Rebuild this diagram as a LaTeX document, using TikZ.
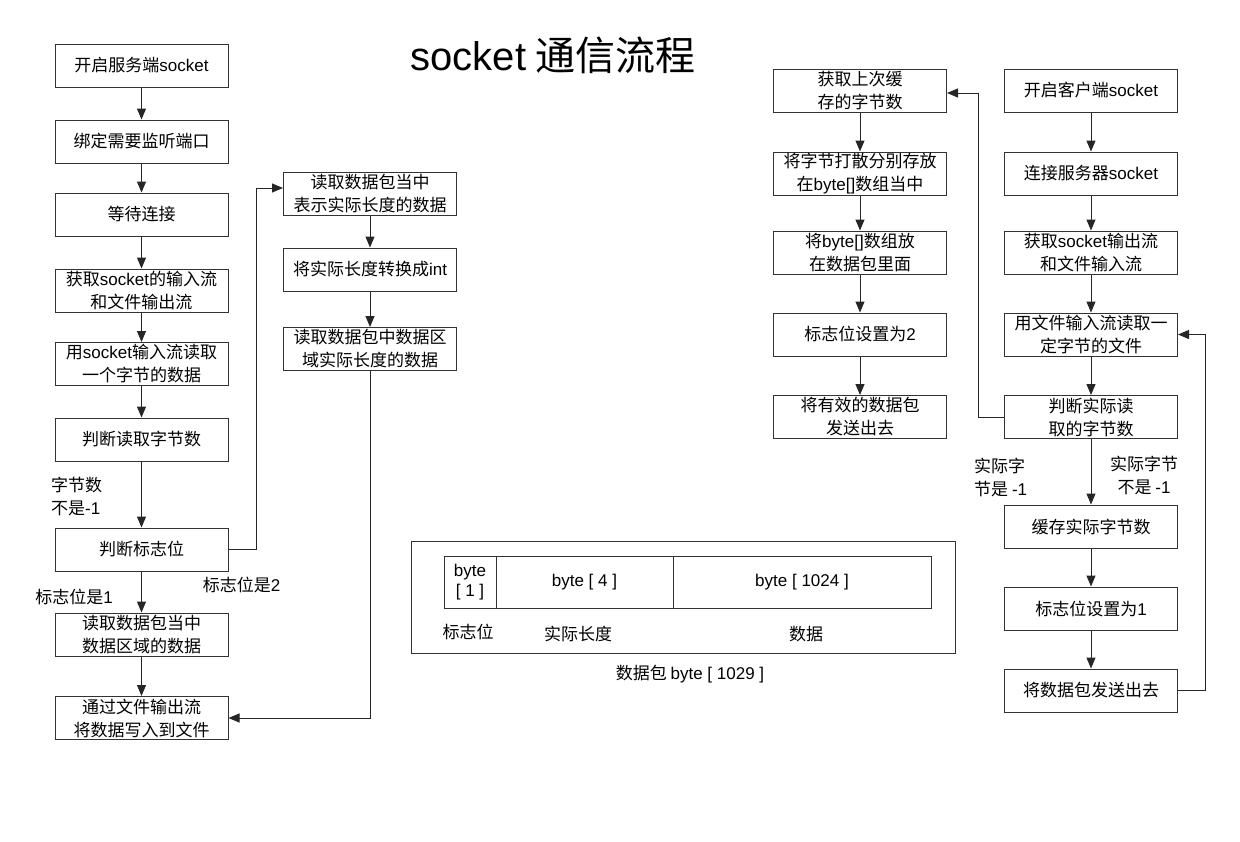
\documentclass[tikz,border=0pt]{standalone}
\usepackage{fontspec}
\setmainfont{Noto Sans CJK SC}
\newfontfamily\latf{Liberation Sans}
\newcommand\lat[1]{{\latf #1}}
\usetikzlibrary{arrows.meta}
\begin{document}
\begin{tikzpicture}[x=1pt,y=-1pt,
  box/.style={draw=black!80, line width=1pt, minimum width=173pt, minimum height=43pt,
    inner sep=0pt, align=center, font=\fontsize{17}{23}\selectfont},
  cell/.style={draw=black!80, line width=1pt, minimum height=52pt,
    inner sep=0pt, align=center, font=\fontsize{17}{20}\selectfont},
  arr/.style={draw=black!85, line width=1pt, -{Triangle[length=11pt,width=9pt]}},
  lbl/.style={font=\fontsize{17}{23}\selectfont, inner sep=0pt}]
\fill[white] (0,0) rectangle (1240,841);
\useasboundingbox (0,0) rectangle (1240,841);

% title
\node[font=\fontsize{40}{46}\selectfont, inner sep=0pt] (title) at (553,55) {\lat{socket} 通信流程};

% server column
\node[box] (s1) at (141.5,65.5) {开启服务端\lat{socket}};
\node[box] (s2) at (141.5,141.5) {绑定需要监听端口};
\node[box] (s3) at (141.5,214.5) {等待连接};
\node[box] (s4) at (141.5,290.5) {获取\lat{socket}的输入流\\和文件输出流};
\node[box] (s5) at (141.5,364) {用\lat{socket}输入流读取\\一个字节的数据};
\node[box] (s6) at (141.5,439.5) {判断读取字节数};
\node[box] (s7) at (141.5,549.5) {判断标志位};
\node[box] (s8) at (141.5,634.5) {读取数据包当中\\数据区域的数据};
\node[box] (s9) at (141.5,718) {通过文件输出流\\将数据写入到文件};

\node[box] (m1) at (370,193.5) {读取数据包当中\\表示实际长度的数据};
\node[box] (m2) at (370,269.5) {将实际长度转换成\lat{int}};
\node[box] (m3) at (370,349) {读取数据包中数据区\\域实际长度的数据};

\foreach \a/\b in {s1/s2,s2/s3,s3/s4,s4/s5,s5/s6,s6/s7,s7/s8,s8/s9,m1/m2,m2/m3}
  \draw[arr] (\a) -- (\b);

\coordinate (k1) at (256,188);
\draw[arr] (s7.east) -| (k1) -- (k1 -| m1.west);
\draw[arr] (m3.south) |- (s9.east);

\node[lbl, anchor=west, align=left] (l1) at (51,496.5) {字节数\\不是\lat{-1}};
\node[lbl] (l2) at (74,597) {标志位是\lat{1}};
\node[lbl] (l3) at (241.5,585) {标志位是\lat{2}};

% client side
\node[box] (p1) at (860,90.5) {获取上次缓\\存的字节数};
\node[box] (p2) at (860,173.5) {将字节打散分别存放\\在\lat{byte[]}数组当中};
\node[box] (p3) at (860,252.5) {将\lat{byte[]}数组放\\在数据包里面};
\node[box] (p4) at (860,334.5) {标志位设置为\lat{2}};
\node[box] (p5) at (860,417) {将有效的数据包\\发送出去};

\node[box] (c1) at (1091,90.5) {开启客户端\lat{socket}};
\node[box] (c2) at (1091,173.5) {连接服务器\lat{socket}};
\node[box] (c3) at (1091,252.5) {获取\lat{socket}输出流\\和文件输入流};
\node[box] (c4) at (1091,334.5) {用文件输入流读取一\\定字节的文件};
\node[box] (c5) at (1091,417) {判断实际读\\取的字节数};
\node[box] (c6) at (1091,526.5) {缓存实际字节数};
\node[box] (c7) at (1091,608.5) {标志位设置为\lat{1}};
\node[box] (c8) at (1091,690.5) {将数据包发送出去};

\foreach \a/\b in {p1/p2,p2/p3,p3/p4,p4/p5,c1/c2,c2/c3,c3/c4,c4/c5,c5/c6,c6/c7,c7/c8}
  \draw[arr] (\a) -- (\b);

\coordinate (k2) at (978,93);
\draw[arr] (c5.west) -| (k2) -- (k2 -| p1.east);
\coordinate (k3) at (1205,334.5);
\draw[arr] (c8.east) -| (k3) -- (c4.east);

\node[lbl, anchor=west, align=left] (l4) at (974,477.5) {实际字\\节是 \lat{-1}};
\node[lbl, align=center] (l5) at (1144,475.5) {实际字节\\不是 \lat{-1}};

% packet
\node[draw=black!80, line width=1pt, minimum width=544pt, minimum height=112pt, inner sep=0pt] (pkt) at (683,597) {};
\node[cell, minimum width=52pt] (f1) at (470,582) {\lat{byte}\\\lat{[ 1 ]}};
\node[cell, minimum width=177pt] (f2) at (584.5,582) {\lat{byte [ 4 ]}};
\node[cell, minimum width=258pt] (f3) at (802,582) {\lat{byte [ 1024 ]}};
\node[lbl] (g1) at (468,632) {标志位};
\node[lbl] (g2) at (578,634) {实际长度};
\node[lbl] (g3) at (806,634) {数据};
\node[lbl] (cap) at (690,674) {数据包 \lat{byte [ 1029 ]}};
\end{tikzpicture}
\end{document}
